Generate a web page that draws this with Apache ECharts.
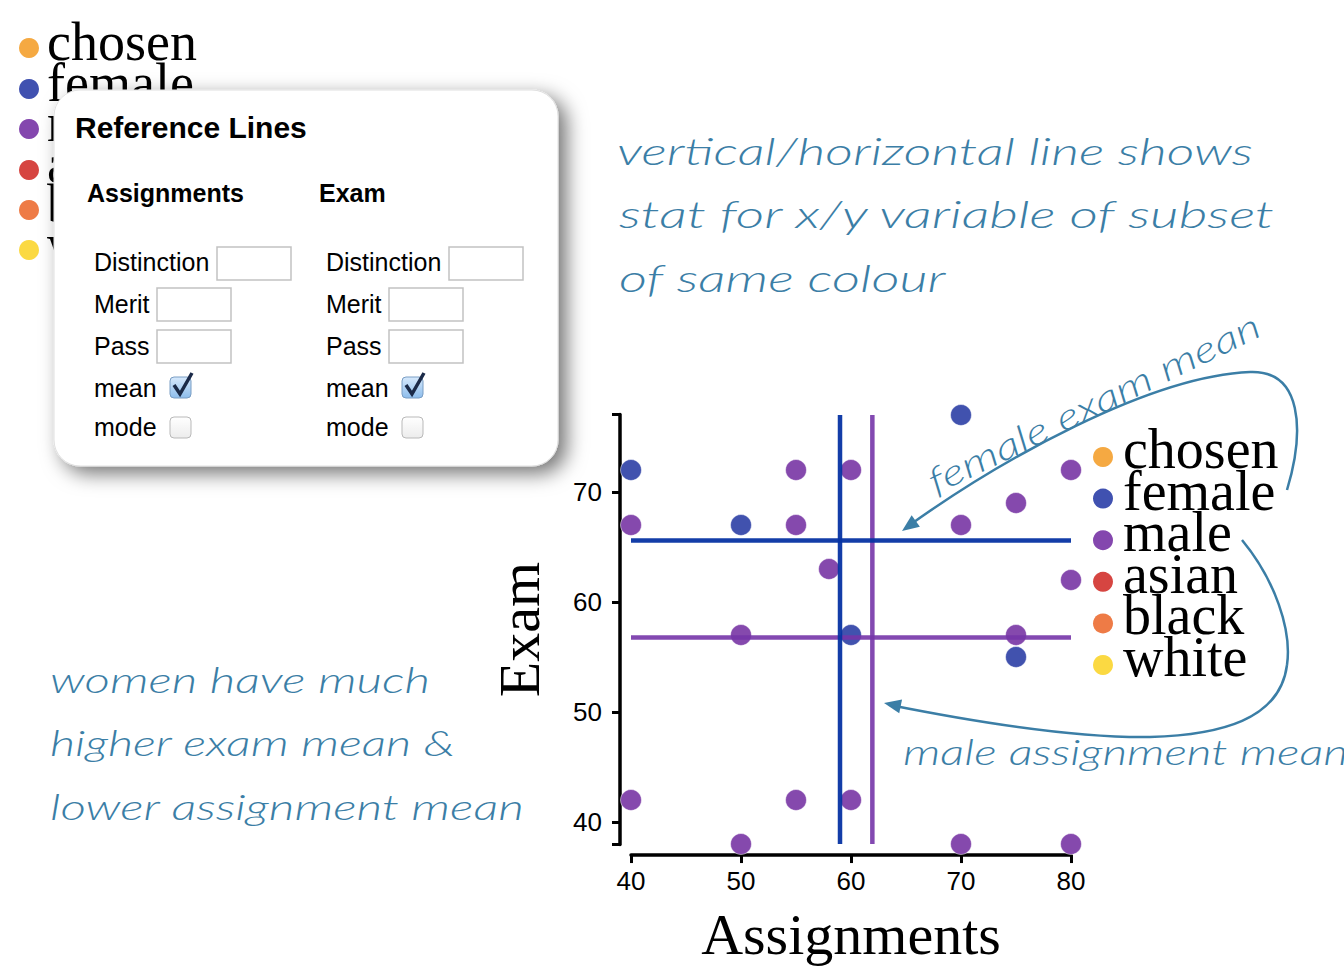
<!DOCTYPE html>
<html><head><meta charset="utf-8">
<script src="https://cdn.jsdelivr.net/npm/echarts@6/dist/echarts.min.js"></script>
<style>html,body{margin:0;padding:0;background:#fff;overflow:hidden}#c{width:1344px;height:967px}</style>
</head><body><div id="c"></div>
<script>
// ---- data ----
const femaleAssignments = [40, 50, 60, 70, 75];
const femaleExam        = [72, 67, 57, 77, 55];
const maleAssignments   = [40, 40, 50, 50, 55, 55, 55, 58, 60, 60, 70, 70, 75, 75, 80, 80, 80];
const maleExam          = [67, 42, 57, 38, 72, 67, 42, 63, 72, 42, 67, 38, 69, 57, 72, 62, 38];
const xTickValues = [40, 50, 60, 70, 80];
const yTickValues = [40, 50, 60, 70];
const legendLabels = ['chosen', 'female', 'male', 'asian', 'black', 'white'];
const legendColors = ['#f5a942', '#4051b0', '#8447ae', '#d64541', '#ee7b46', '#fbd942'];
const panelTitle = 'Reference Lines';
const panelColumns = ['Assignments', 'Exam'];
const panelRows = ['Distinction', 'Merit', 'Pass', 'mean', 'mode'];
const noteTop = ['vertical/horizontal line shows', 'stat for x/y variable of subset', 'of same colour'];
const noteLeft = ['women have much', 'higher exam mean &', 'lower assignment mean'];
const noteFemale = 'female exam mean';
const noteMale = 'male assignment mean';

const mean = a => a.reduce((s, v) => s + v, 0) / a.length;
const allX = femaleAssignments.concat(maleAssignments);
const allY = femaleExam.concat(maleExam);
const xMin = Math.min(...allX), xMax = Math.max(...allX);
const yMin = Math.min(...allY), yMax = Math.max(...allY);
const yAxisMin = 37.95, yAxisMax = 77.05;

const FEMALE = '#4152ae', MALE = '#8549ad';
const FEMALE_LINE = '#0633a3', MALE_LINE = '#7535a8';
const INK = '#3b7ea6';
const HAND = 'Lato';
const SANS = '"Liberation Sans", Arial, Helvetica, sans-serif';
const SERIF = '"Liberation Serif", "Times New Roman", serif';

const ctx = document.createElement('canvas').getContext('2d');
function fitScale(text, font, target) {
  ctx.font = font;
  return target / ctx.measureText(text).width;
}
const g = [];
function hand(text, x, baseline, width, fs) {
  const font = `italic 300 ${fs}px ${HAND}`;
  g.push({type: 'text', x: x, y: baseline - 0.3 * fs, scaleX: fitScale(text, font, width), silent: true, z: 50,
    style: {text: text, fill: INK, font: font, align: 'left', verticalAlign: 'middle'}});
}
function arrowHead(tx, ty, fx, fy) {
  const dx = tx - fx, dy = ty - fy, L = Math.hypot(dx, dy), ux = dx / L, uy = dy / L;
  const bx = tx - ux * 17, by = ty - uy * 17;
  g.push({type: 'polygon', silent: true, z: 50, shape: {points: [[tx, ty], [bx - uy * 7, by + ux * 7], [bx + uy * 7, by - ux * 7]]}, style: {fill: INK}});
}
function curve(p) { // p: [x1,y1,cx1,cy1,cx2,cy2,x2,y2]
  g.push({type: 'bezierCurve', silent: true, z: 50,
    shape: {x1: p[0], y1: p[1], cpx1: p[2], cpy1: p[3], cpx2: p[4], cpy2: p[5], x2: p[6], y2: p[7]},
    style: {stroke: INK, lineWidth: 2.5, fill: null}});
}

// top-left legend (partly hidden by the panel)
legendLabels.forEach((l, i) => {
  const cy = [48, 89, 129, 170, 210, 250][i];
  g.push({type: 'circle', shape: {cx: 29, cy: cy, r: 10}, style: {fill: legendColors[i]}, silent: true, z: 10});
  g.push({type: 'text', x: 47, y: cy + 21, silent: true, z: 10, style: {text: l, fill: '#000', font: `54px ${SERIF}`, align: 'left', verticalAlign: 'bottom'}});
});
// right legend
legendLabels.forEach((l, i) => {
  const cy = 457 + i * 41.6;
  g.push({type: 'circle', shape: {cx: 1103, cy: cy, r: 10}, style: {fill: legendColors[i]}, silent: true, z: 10});
  g.push({type: 'text', x: 1123, y: cy + 20, silent: true, z: 10, style: {text: l, fill: '#000', font: `56px ${SERIF}`, align: 'left', verticalAlign: 'bottom'}});
});

// panel
g.push({type: 'rect', silent: true, z: 100, shape: {x: 54, y: 90, width: 504, height: 376, r: 26},
  style: {fill: '#fff', stroke: '#e0e0e0', lineWidth: 1, shadowBlur: 20, shadowOffsetX: 8, shadowOffsetY: 7, shadowColor: 'rgba(0,0,0,0.55)'}});
g.push({type: 'text', x: 75, y: 127, silent: true, z: 101, style: {text: panelTitle, fill: '#000', font: `bold 30px ${SANS}`, verticalAlign: 'middle'}});
const colX = [87, 319], labX = [94, 326];
const rowY = [262, 304, 346, 388, 427];
const boxes = [[[217, 247], [157, 288], [157, 330]], [[449, 247], [389, 288], [389, 330]]];
const checks = [[170, 377], [402, 377]], modes = [[170, 417], [402, 417]];
panelColumns.forEach((c, k) => {
  g.push({type: 'text', x: colX[k], y: 193, silent: true, z: 101, style: {text: c, fill: '#000', font: `bold 25px ${SANS}`, verticalAlign: 'middle'}});
  panelRows.forEach((r, j) => {
    g.push({type: 'text', x: labX[k], y: rowY[j], silent: true, z: 101, style: {text: r, fill: '#000', font: `25px ${SANS}`, verticalAlign: 'middle'}});
  });
  boxes[k].forEach(b => {
    g.push({type: 'rect', silent: true, z: 101, shape: {x: b[0], y: b[1], width: 74, height: 33}, style: {fill: '#fff', stroke: '#c2c2c2', lineWidth: 1.5}});
  });
  const [cx, cy] = checks[k];
  g.push({type: 'rect', silent: true, z: 101, shape: {x: cx, y: cy, width: 21, height: 21, r: 4},
    style: {fill: new echarts.graphic.LinearGradient(0, 0, 0, 1, [{offset: 0, color: '#d7e9fc'}, {offset: 1, color: '#8dbdec'}]), stroke: '#7a9ec4', lineWidth: 1}});
  g.push({type: 'polyline', silent: true, z: 102, shape: {points: [[cx + 4, cy + 8], [cx + 10, cy + 17], [cx + 22, cy - 4]]}, style: {stroke: '#1b2a48', lineWidth: 3.5, fill: null}});
  const [mx, my] = modes[k];
  g.push({type: 'rect', silent: true, z: 101, shape: {x: mx, y: my, width: 21, height: 21, r: 4},
    style: {fill: new echarts.graphic.LinearGradient(0, 0, 0, 1, [{offset: 0, color: '#ffffff'}, {offset: 1, color: '#ececec'}]), stroke: '#b9b9b9', lineWidth: 1}});
});

// handwritten notes
hand(noteTop[0], 617, 162, 636, 38);
hand(noteTop[1], 619, 225, 659, 38);
hand(noteTop[2], 619, 289, 327, 38);
hand(noteLeft[0], 50, 690, 380, 36);
hand(noteLeft[1], 50, 753, 406, 36);
hand(noteLeft[2], 50, 817, 475, 36);
hand(noteMale, 903, 762, 445, 35);
(function () {
  const fs = 36, th = 26 * Math.PI / 180, font = `italic 300 ${fs}px ${HAND}`;
  const bx = 1098, by = 412, off = 0.3 * fs;
  g.push({type: 'text', x: bx - Math.sin(th) * off, y: by - Math.cos(th) * off, rotation: th,
    scaleX: fitScale(noteFemale, font, 365), silent: true, z: 50,
    style: {text: noteFemale, fill: INK, font: font, align: 'center', verticalAlign: 'middle'}});
})();
// curved arrows
curve([1287, 490, 1305, 430, 1302, 370, 1250, 372]);
curve([1250, 372, 1150, 376, 1000, 460, 907, 527]);
arrowHead(902, 531, 1000, 460);
curve([1242, 540, 1275, 580, 1292, 630, 1287, 665]);
curve([1287, 665, 1280, 720, 1220, 735, 1150, 737]);
curve([1150, 737, 1080, 738, 990, 725, 890, 705]);
arrowHead(884, 703, 990, 725);

const chart = echarts.init(document.getElementById('c'), null, {renderer: 'svg'});
const axisFont = {fontFamily: SANS, fontSize: 26, color: '#000'};
chart.setOption({
  animation: false,
  backgroundColor: '#fff',
  grid: {left: 631, right: 273, top: 414.45, bottom: 122.45},
  xAxis: {
    type: 'value', min: 40, max: 80, interval: 10, offset: 10.5,
    axisLine: {show: true, onZero: false, lineStyle: {color: '#000', width: 3.5}},
    axisTick: {show: true, length: 8, customValues: xTickValues, lineStyle: {color: '#000', width: 3}},
    axisLabel: Object.assign({margin: 13, customValues: xTickValues}, axisFont),
    splitLine: {show: false},
    name: 'Assignments', nameLocation: 'middle', nameGap: 50,
    nameTextStyle: {fontFamily: SERIF, fontSize: 58, color: '#000'}
  },
  yAxis: {
    type: 'value', min: yAxisMin, max: yAxisMax, offset: 11,
    axisLine: {show: true, onZero: false, lineStyle: {color: '#000', width: 3.5}},
    axisTick: {show: true, length: 8, customValues: [yAxisMin].concat(yTickValues, [yAxisMax]), lineStyle: {color: '#000', width: 3}},
    axisLabel: Object.assign({margin: 18, customValues: yTickValues}, axisFont),
    splitLine: {show: false},
    name: 'Exam', nameLocation: 'middle', nameGap: 72, nameRotate: 90,
    nameTextStyle: {fontFamily: SERIF, fontSize: 58, color: '#000'}
  },
  series: [
    {type: 'scatter', name: 'female', symbolSize: 21, z: 2,
      itemStyle: {color: FEMALE, opacity: 1, borderColor: 'rgba(255,255,255,0.5)', borderWidth: 1},
      data: femaleAssignments.map((x, i) => [x, femaleExam[i]])},
    {type: 'scatter', name: 'male', symbolSize: 21, z: 2,
      itemStyle: {color: MALE, opacity: 1, borderColor: 'rgba(255,255,255,0.5)', borderWidth: 1},
      data: maleAssignments.map((x, i) => [x, maleExam[i]])},
    {type: 'line', name: 'male mean x', symbol: 'none', z: 3, lineStyle: {color: MALE_LINE, width: 4.5, opacity: 0.9},
      data: [[mean(maleAssignments), yMin], [mean(maleAssignments), yMax]]},
    {type: 'line', name: 'male mean y', symbol: 'none', z: 3, lineStyle: {color: MALE_LINE, width: 4.5, opacity: 0.9},
      data: [[xMin, mean(maleExam)], [xMax, mean(maleExam)]]},
    {type: 'line', name: 'female mean x', symbol: 'none', z: 4, lineStyle: {color: FEMALE_LINE, width: 4.5, opacity: 0.95},
      data: [[mean(femaleAssignments), yMin], [mean(femaleAssignments), yMax]]},
    {type: 'line', name: 'female mean y', symbol: 'none', z: 4, lineStyle: {color: FEMALE_LINE, width: 4.5, opacity: 0.95},
      data: [[xMin, mean(femaleExam)], [xMax, mean(femaleExam)]]}
  ],
  graphic: {elements: g}
});
</script></body></html>
